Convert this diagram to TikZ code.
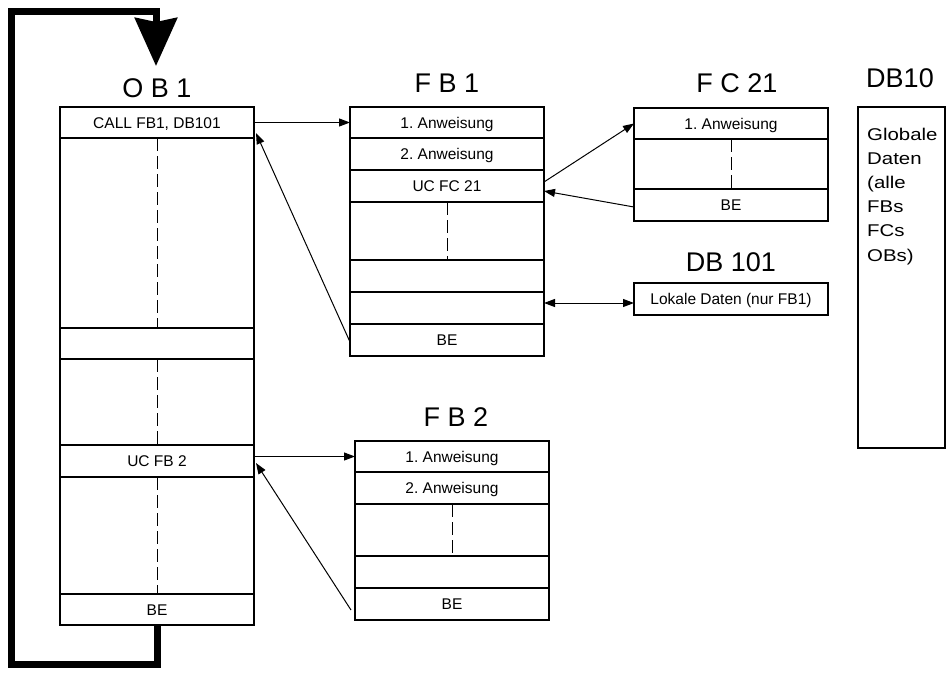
\documentclass[tikz,border=0pt]{standalone}
\usepackage{fontspec}
\setmainfont{Liberation Sans}
\newfontfamily\widefont[FakeStretch=1.2]{Liberation Sans}
\usetikzlibrary{arrows.meta,calc}
\frenchspacing
\begin{document}
\begin{tikzpicture}[x=1pt,y=-1pt,
  row/.style={draw, line width=1.2pt, inner sep=0pt, outer sep=0pt, minimum width=194pt, anchor=north west,
    font=\fontsize{15.5}{18}\selectfont, text height=11.1pt, text depth=0pt},
  ttl/.style={inner sep=0pt, font=\fontsize{27}{32}\selectfont},
  dashln/.style={line width=1pt, dash pattern=on 13pt off 5pt},
  arr/.style={line width=1pt, -{Triangle[length=11pt,width=8pt]}},
  dbl/.style={line width=1pt, {Triangle[length=11pt,width=8pt]}-{Triangle[length=11pt,width=8pt]}},
  loopln/.style={line width=7pt, -{Stealth[length=48pt,width=42pt,inset=4pt]}}]
\useasboundingbox (0,0) rectangle (949,672);

% OB1
\node[ttl] (ob1t) at (157,88) {O B 1};
\node[row, minimum height=31pt] (ob1call) at (60,107) {CALL FB1, DB101};
\node[row, minimum height=190pt] (ob1r2) at (60,138) {};
\node[row, minimum height=31pt] (ob1r3) at (60,328) {};
\node[row, minimum height=86pt] (ob1r4) at (60,359) {};
\node[row, minimum height=32pt] (ob1uc) at (60,445) {UC FB 2};
\node[row, minimum height=117pt] (ob1r6) at (60,477) {};
\node[row, minimum height=31pt] (ob1be) at (60,594) {BE};

% FB1
\node[ttl] (fb1t) at (447,83) {F B 1};
\node[row, minimum height=31pt] (fb1a) at (350,107) {1. Anweisung};
\node[row, minimum height=32pt] (fb1b) at (350,138) {2. Anweisung};
\node[row, minimum height=32pt] (fb1uc) at (350,170) {UC FC 21};
\node[row, minimum height=58pt] (fb1r4) at (350,202) {};
\node[row, minimum height=32pt] (fb1r5) at (350,260) {};
\node[row, minimum height=32pt] (fb1r6) at (350,292) {};
\node[row, minimum height=32pt] (fb1be) at (350,324) {BE};

% FC21
\node[ttl] (fc21t) at (737,83) {F C 21};
\node[row, minimum height=31pt] (fc21a) at (634,108) {1. Anweisung};
\node[row, minimum height=50pt] (fc21r2) at (634,139) {};
\node[row, minimum height=32pt] (fc21be) at (634,189) {BE};

% DB101
\node[ttl] (db101t) at (731,262) {DB 101};
\node[row, minimum height=32pt] (db101) at (634,283) {Lokale Daten (nur FB1)};

% DB10
\node[ttl] (db10t) at (900,78) {DB10};
\node[draw, line width=1.2pt, inner sep=0pt, outer sep=0pt, minimum width=87pt, minimum height=341pt, anchor=north west] (db10) at (858,107) {};
\node[anchor=north west, inner sep=0pt, align=left, font=\widefont\fontsize{17}{24.2}\selectfont] (db10txt) at (867,127.6) {Globale\\Daten\\(alle\\FBs\\FCs\\OBs)};

% FB2
\node[ttl] (fb2t) at (456,417) {F B 2};
\node[row, minimum height=31pt] (fb2a) at (355,441) {1. Anweisung};
\node[row, minimum height=32pt] (fb2b) at (355,472) {2. Anweisung};
\node[row, minimum height=52pt] (fb2r3) at (355,504) {};
\node[row, minimum height=32pt] (fb2r4) at (355,556) {};
\node[row, minimum height=32pt] (fb2be) at (355,588) {BE};

% dashed continuations
\foreach \n in {ob1r2,ob1r4,ob1r6,fb1r4,fc21r2,fb2r3}
  \draw[dashln] (\n.north) -- (\n.south);

% calls and returns
\draw[arr] (ob1call.east) -- (fb1a.west);
\draw[arr] ([yshift=-2pt]fb1be.west) -- ([shift={(2pt,5pt)}]ob1call.south east);
\draw[arr] ([yshift=4pt]fb1uc.east) -- (fc21a.west);
\draw[arr] ([yshift=-2pt]fc21be.west) -- ([yshift=-5pt]fb1uc.east);
\coordinate (dbla) at ([yshift=5pt]fb1r6.east);
\draw[dbl] (dbla) -- (dbla -| db101.west);
\draw[arr] (fb2a.west -| ob1uc.east) -- (fb2a.west);
\draw[arr] ([shift={(-4pt,-6pt)}]fb2be.west) -- ([shift={(2pt,-2pt)}]ob1uc.east);

% cycle loop
\coordinate (looptip) at (156,66);
\draw[loopln] (ob1be.south) -- ++(0,39) -| (11,11) -| (looptip);
\end{tikzpicture}
\end{document}
